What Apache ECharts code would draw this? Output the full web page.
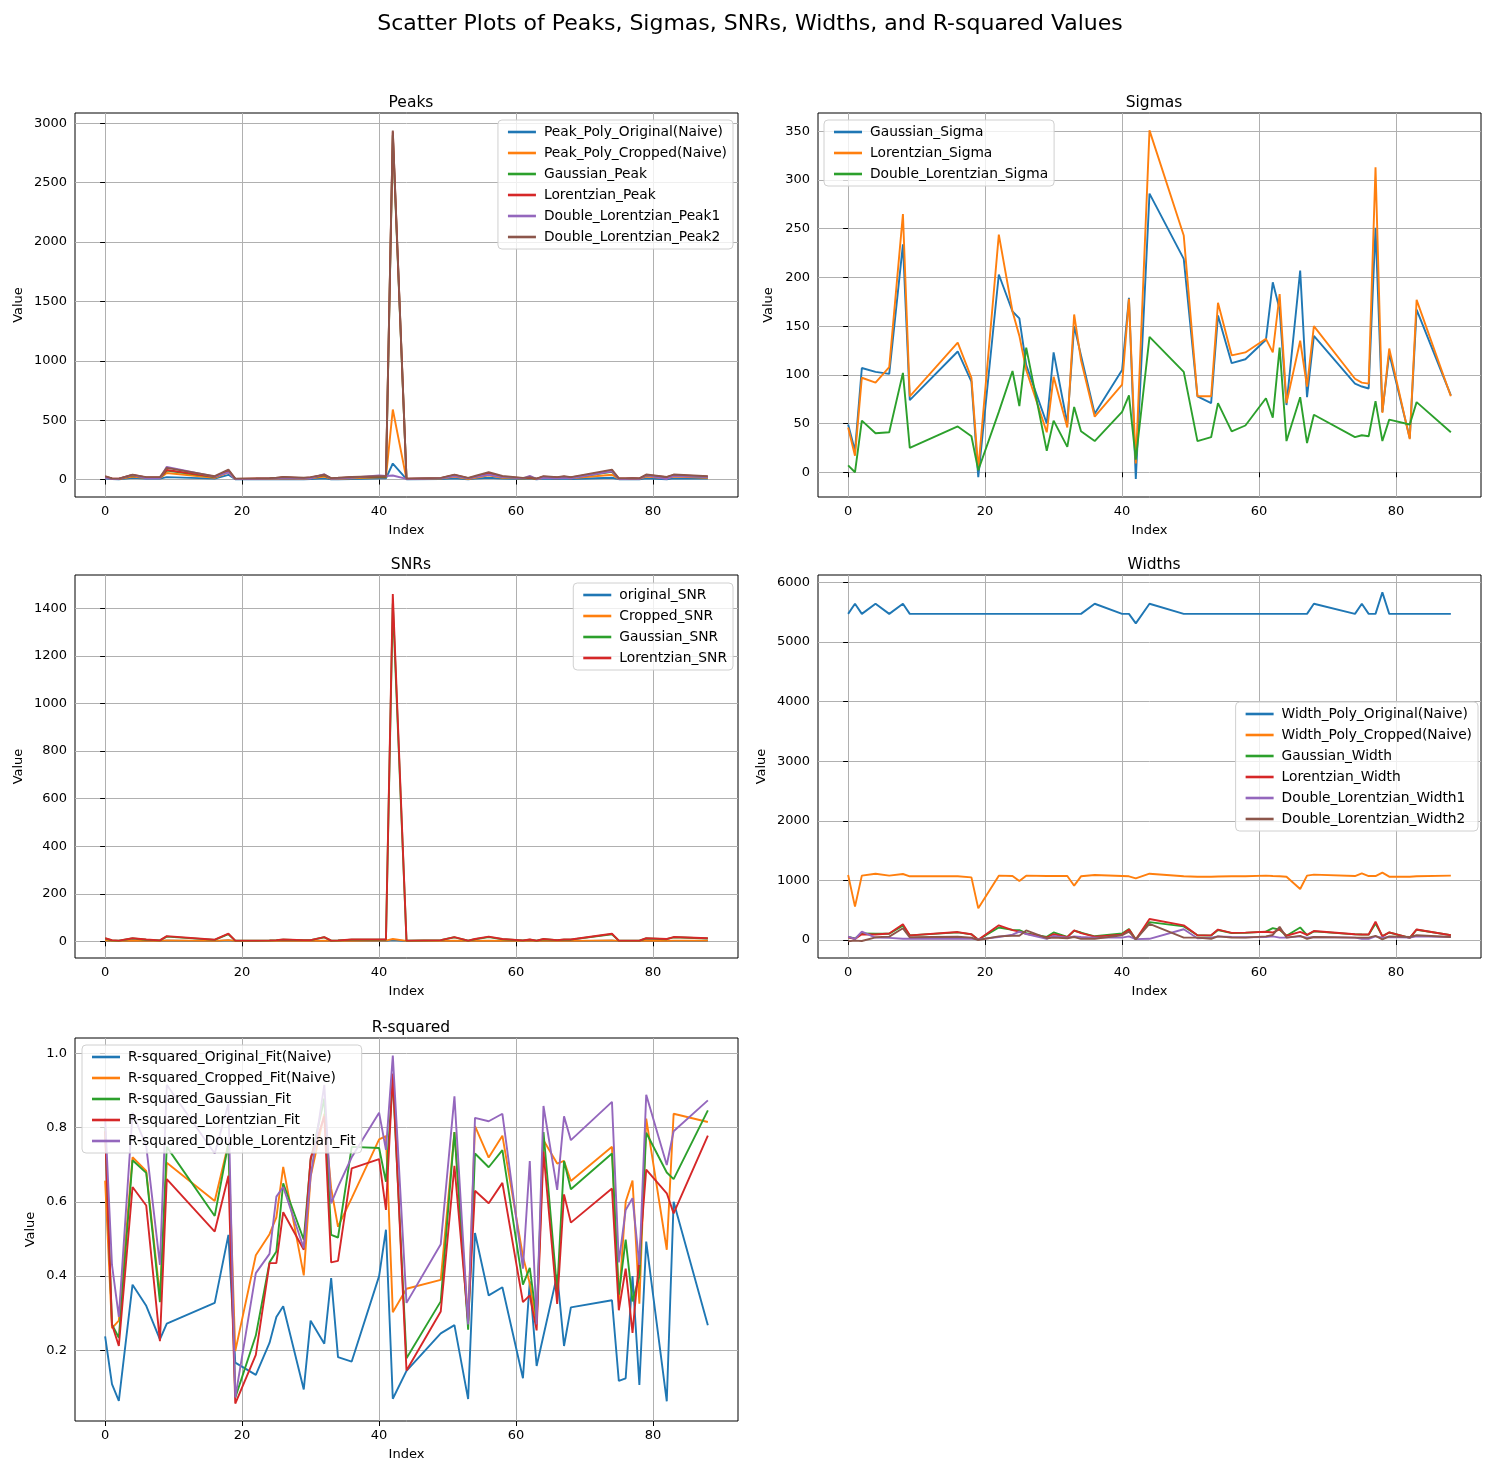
<!DOCTYPE html>
<html>
<head>
<meta charset="utf-8">
<script src="https://cdn.jsdelivr.net/npm/echarts@6/dist/echarts.min.js"></script>
<style>
html,body{margin:0;padding:0;background:#fff;}
#chart{width:1489px;height:1475px;}
</style>
</head>
<body>
<div id="chart"></div>
<script>
// ---------- DATA ----------
const idx = [0,1,2,4,6,8,9,16,18,19,22,24,25,26,29,30,32,33,34,36,40,41,42,44,49,51,53,54,56,58,61,62,63,64,66,67,68,74,75,76,77,78,79,82,83,88];

// Peaks
const peakPolyOrig = [10,5,3,15,8,8,20,8,40,3,3,3,3,5,3,5,10,3,3,5,10,10,135,3,5,10,3,8,15,8,5,8,3,8,5,8,5,15,3,3,3,3,10,3,10,8];
const peakPolyCrop = [18,6,4,25,12,12,55,15,60,4,5,5,6,10,6,10,25,5,6,10,18,18,590,4,8,25,5,15,35,15,8,12,4,15,10,15,10,40,5,5,6,5,25,10,25,15];
const gaussPeak    = [22,8,6,35,15,15,75,20,72,5,8,9,10,18,10,15,35,8,10,18,22,22,2900,6,10,35,10,22,50,22,10,14,6,22,15,22,15,65,8,8,10,8,35,18,35,22];
const lorPeak      = [25,9,7,38,17,17,80,22,78,6,9,10,12,20,12,17,38,10,12,20,25,25,2930,7,12,38,12,25,55,25,12,16,7,25,17,25,17,72,9,9,11,9,38,20,38,25];
const dlPeak1      = [15,6,5,40,10,10,107,25,60,4,6,8,8,12,8,10,45,6,8,15,35,30,34,5,10,30,10,20,40,20,10,30,5,15,10,15,10,70,5,5,8,5,35,5,30,20];
const dlPeak2      = [28,10,8,42,20,20,98,28,84,8,10,12,15,22,15,20,42,12,15,22,28,28,2940,8,14,42,14,30,62,30,14,20,8,28,20,28,20,84,10,10,12,10,42,22,42,28];

// Sigmas
const gaussSigma = [49,22,107,103,101,234,74,124,93,-5,203,165,158,110,50,123,50,150,120,60,105,179,-7,286,219,78,71,161,112,116,136,195,167,69,207,77,140,91,88,86,251,62,122,35,167,79];
const lorSigma   = [46,17,97,92,108,265,78,133,97,3,244,165,140,105,41,98,46,162,115,57,90,178,9,351,243,78,78,174,120,123,137,123,183,71,135,88,150,96,92,91,313,61,127,34,177,78];
const dlSigma    = [7,0,53,40,41,102,25,47,37,2,62,104,68,128,22,53,26,67,42,32,62,79,13,139,103,32,36,71,42,48,76,56,128,32,77,30,59,36,38,37,73,32,54,49,72,41];

// SNRs
const origSNR  = [2,1,1,2,1,1,3,1,4,1,1,1,1,1,1,1,2,1,1,1,2,2,5,1,1,2,1,1,2,1,1,1,1,1,1,1,1,3,1,1,1,1,2,1,2,2];
const cropSNR  = [3,2,2,3,2,2,4,2,5,2,2,2,2,2,2,2,3,2,2,2,3,3,10,2,2,3,2,2,3,2,2,2,2,2,2,2,2,4,2,2,2,2,3,2,3,3];
const gaussSNR = [12,4,3,12,7,4,20,6,30,3,3,4,5,7,5,5,17,3,4,7,7,7,1420,3,5,17,3,9,18,9,4,7,3,9,5,7,7,30,3,3,3,3,12,9,17,12];
const lorSNR   = [13,5,3,13,8,4,22,7,32,3,3,4,5,8,5,5,18,3,4,8,8,8,1460,3,5,18,3,10,20,10,4,8,3,10,5,8,8,32,3,3,3,3,13,10,18,13];

// Widths
const widthPolyOrig = [5470,5640,5470,5640,5470,5640,5470,5470,5470,5470,5470,5470,5470,5470,5470,5470,5470,5470,5470,5640,5470,5470,5310,5640,5470,5470,5470,5470,5470,5470,5470,5470,5470,5470,5470,5470,5640,5470,5640,5470,5470,5830,5470,5470,5470,5470];
const widthPolyCrop = [1090,559,1079,1112,1079,1107,1068,1068,1051,531,1079,1073,989,1079,1073,1073,1073,911,1068,1090,1073,1068,1034,1112,1068,1062,1062,1065,1068,1068,1079,1073,1068,1062,855,1079,1096,1073,1118,1073,1073,1129,1062,1062,1068,1079];
const gaussWidth    = [50,25,110,105,105,240,78,128,95,5,210,170,165,115,52,127,52,155,125,62,108,185,8,300,228,80,74,168,116,120,140,200,172,72,210,80,145,95,92,90,275,65,126,36,172,82];
const lorWidth      = [46,17,97,92,108,263,78,133,97,3,246,165,140,105,41,98,46,162,115,57,90,178,9,352,245,80,78,175,120,123,138,125,183,71,135,88,150,96,92,91,307,62,127,35,177,80];
const dlWidth1      = [56,17,140,40,35,20,20,25,20,10,50,90,140,100,20,70,40,60,50,40,40,60,15,20,180,30,40,60,50,45,50,60,40,40,60,40,50,40,20,20,60,40,50,40,60,50];
const dlWidth2      = [-22,-10,-17,45,56,196,45,55,40,0,60,70,70,160,30,40,30,50,20,20,80,140,10,270,40,40,20,60,40,40,60,84,220,40,70,20,50,40,40,40,70,10,60,50,80,50];

// R-squared
const r2Orig  = [0.238,0.109,0.064,0.377,0.320,0.230,0.272,0.328,0.511,0.167,0.134,0.220,0.290,0.319,0.095,0.280,0.218,0.395,0.182,0.170,0.400,0.525,0.070,0.145,0.246,0.268,0.069,0.516,0.348,0.370,0.125,0.386,0.158,0.240,0.404,0.212,0.316,0.335,0.118,0.125,0.400,0.107,0.493,0.063,0.600,0.268];
const r2Crop  = [0.657,0.260,0.280,0.720,0.683,0.346,0.705,0.602,0.757,0.198,0.456,0.513,0.558,0.694,0.402,0.668,0.837,0.636,0.533,0.610,0.768,0.777,0.303,0.366,0.390,0.788,0.279,0.804,0.719,0.778,0.453,0.380,0.270,0.766,0.703,0.710,0.656,0.748,0.330,0.600,0.657,0.326,0.824,0.471,0.837,0.815];
const r2Gauss = [0.800,0.270,0.234,0.712,0.678,0.330,0.748,0.562,0.757,0.073,0.240,0.437,0.466,0.650,0.498,0.712,0.878,0.511,0.504,0.748,0.745,0.654,0.930,0.179,0.332,0.788,0.256,0.730,0.693,0.739,0.377,0.422,0.283,0.788,0.360,0.710,0.634,0.730,0.350,0.498,0.332,0.400,0.786,0.679,0.661,0.846];
const r2Lor   = [0.790,0.270,0.212,0.640,0.590,0.225,0.661,0.520,0.670,0.057,0.188,0.435,0.435,0.572,0.471,0.717,0.830,0.437,0.441,0.690,0.715,0.578,0.945,0.146,0.305,0.697,0.279,0.630,0.596,0.651,0.330,0.348,0.254,0.735,0.325,0.620,0.544,0.636,0.308,0.420,0.247,0.450,0.687,0.623,0.569,0.778];
const r2DL    = [0.826,0.430,0.290,0.840,0.750,0.430,0.915,0.730,0.864,0.073,0.408,0.460,0.614,0.640,0.475,0.668,0.915,0.596,0.640,0.720,0.840,0.740,0.994,0.328,0.486,0.884,0.270,0.826,0.817,0.837,0.420,0.710,0.270,0.858,0.632,0.830,0.766,0.869,0.437,0.578,0.610,0.430,0.888,0.699,0.790,0.873];

const xTicks = [0,20,40,60,80];
const peakTicks = [0,500,1000,1500,2000,2500,3000];
const sigmaTicks = [0,50,100,150,200,250,300,350];
const snrTicks = [0,200,400,600,800,1000,1200,1400];
const widthTicks = [0,1000,2000,3000,4000,5000,6000];
const r2Ticks = [0.2,0.4,0.6,0.8,1.0];

// ---------- CHART ----------
const C = ['#1f77b4','#ff7f0e','#2ca02c','#d62728','#9467bd','#8c564b'];
const FONT = 'DejaVu Sans';
const grids = [
  {left:75, top:113, width:663, height:384},
  {left:818, top:113, width:663, height:384},
  {left:75, top:575, width:663, height:383},
  {left:818, top:575, width:663, height:383},
  {left:75, top:1038, width:663, height:383}
].map(g => Object.assign({show:true, borderColor:'#000', borderWidth:1, backgroundColor:'transparent', containLabel:false}, g));

const yRanges = [[-147,3087],[-25.4,368.8],[-70,1540],[-302,6122],[0.01,1.041]];
const yTickSets = [peakTicks, sigmaTicks, snrTicks, widthTicks, r2Ticks];
const yNameGaps = [50,43,50,50,38];

function xAxis(i){
  return {type:'value', gridIndex:i, min:-4.4, max:92.4,
    name:'Index', nameLocation:'middle', nameGap:27,
    nameTextStyle:{fontFamily:FONT, fontSize:13, color:'#000'},
    axisLine:{show:false},
    axisTick:{show:true, inside:false, length:5, lineStyle:{color:'#000', width:1}, customValues:xTicks},
    axisLabel:{fontFamily:FONT, fontSize:13, color:'#000', margin:8, customValues:xTicks},
    splitLine:{show:true, lineStyle:{color:'#b0b0b0', width:1}}
  };
}
function yAxis(i){
  return {type:'value', gridIndex:i, min:yRanges[i][0], max:yRanges[i][1],
    name:'Value', nameLocation:'middle', nameGap:yNameGaps[i], nameRotate:90,
    nameTextStyle:{fontFamily:FONT, fontSize:13, color:'#000'},
    axisLine:{show:false},
    axisTick:{show:true, inside:false, length:5, lineStyle:{color:'#000', width:1}, customValues:yTickSets[i]},
    axisLabel:{fontFamily:FONT, fontSize:13, color:'#000', margin:8, customValues:yTickSets[i],
      formatter: v => (i===4 ? v.toFixed(1) : String(Math.round(v)))},
    splitLine:{show:true, lineStyle:{color:'#b0b0b0', width:1}}
  };
}

function pts(vals){ return idx.map((x,k)=>[x, vals[k]]); }
const series = [];
function add(gi, name, vals, ci){
  series.push({type:'line', name:name, xAxisIndex:gi, yAxisIndex:gi, data:pts(vals),
    showSymbol:false, symbol:'none', lineStyle:{width:1.9, color:C[ci]}, itemStyle:{color:C[ci]},
    animation:false, emphasis:{disabled:true}});
}
add(0,'Peak_Poly_Original(Naive)',peakPolyOrig,0);
add(0,'Peak_Poly_Cropped(Naive)',peakPolyCrop,1);
add(0,'Gaussian_Peak',gaussPeak,2);
add(0,'Lorentzian_Peak',lorPeak,3);
add(0,'Double_Lorentzian_Peak1',dlPeak1,4);
add(0,'Double_Lorentzian_Peak2',dlPeak2,5);
add(1,'Gaussian_Sigma',gaussSigma,0);
add(1,'Lorentzian_Sigma',lorSigma,1);
add(1,'Double_Lorentzian_Sigma',dlSigma,2);
add(2,'original_SNR',origSNR,0);
add(2,'Cropped_SNR',cropSNR,1);
add(2,'Gaussian_SNR',gaussSNR,2);
add(2,'Lorentzian_SNR',lorSNR,3);
add(3,'Width_Poly_Original(Naive)',widthPolyOrig,0);
add(3,'Width_Poly_Cropped(Naive)',widthPolyCrop,1);
add(3,'Gaussian_Width',gaussWidth,2);
add(3,'Lorentzian_Width',lorWidth,3);
add(3,'Double_Lorentzian_Width1',dlWidth1,4);
add(3,'Double_Lorentzian_Width2',dlWidth2,5);
add(4,'R-squared_Original_Fit(Naive)',r2Orig,0);
add(4,'R-squared_Cropped_Fit(Naive)',r2Crop,1);
add(4,'R-squared_Gaussian_Fit',r2Gauss,2);
add(4,'R-squared_Lorentzian_Fit',r2Lor,3);
add(4,'R-squared_Double_Lorentzian_Fit',r2DL,4);

function legend(names, pos){
  return Object.assign({
    data:names, orient:'vertical', icon:'path://M0,0H28V2.6H0Z', itemWidth:28, itemHeight:14, itemGap:7,
    textStyle:{fontFamily:FONT, fontSize:13.8, color:'#000', lineHeight:14, padding:[0,0,0,3]},
    backgroundColor:'rgba(255,255,255,0.8)', borderColor:'#d0d0d0', borderWidth:1, borderRadius:4,
    padding:[5,6,5,10], selectedMode:false
  }, pos);
}
const legends = [
  legend(series.filter(s=>s.xAxisIndex===0).map(s=>s.name), {right:756, top:120}),
  legend(series.filter(s=>s.xAxisIndex===1).map(s=>s.name), {left:824, top:120}),
  legend(series.filter(s=>s.xAxisIndex===2).map(s=>s.name), {right:756, top:583}),
  legend(series.filter(s=>s.xAxisIndex===3).map(s=>s.name), {right:11, top:702}),
  legend(series.filter(s=>s.xAxisIndex===4).map(s=>s.name), {left:82, top:1045})
];

const tStyle = {fontFamily:FONT, fontSize:15.5, fontWeight:'normal', color:'#000'};
const titles = [
  {text:'Scatter Plots of Peaks, Sigmas, SNRs, Widths, and R-squared Values', left:745, top:8, textAlign:'center',
   textStyle:{fontFamily:FONT, fontSize:22, fontWeight:'normal', color:'#000'}},
  {text:'Peaks', left:406, top:90, textAlign:'center', textStyle:tStyle},
  {text:'Sigmas', left:1149, top:90, textAlign:'center', textStyle:tStyle},
  {text:'SNRs', left:406, top:552, textAlign:'center', textStyle:tStyle},
  {text:'Widths', left:1149, top:552, textAlign:'center', textStyle:tStyle},
  {text:'R-squared', left:406, top:1015, textAlign:'center', textStyle:tStyle}
];

const chart = echarts.init(document.getElementById('chart'), null, {renderer:'canvas'});
chart.setOption({
  animation:false,
  backgroundColor:'#fff',
  title:titles,
  legend:legends,
  grid:grids,
  xAxis:[0,1,2,3,4].map(xAxis),
  yAxis:[0,1,2,3,4].map(yAxis),
  series:series
});
</script>
</body>
</html>
